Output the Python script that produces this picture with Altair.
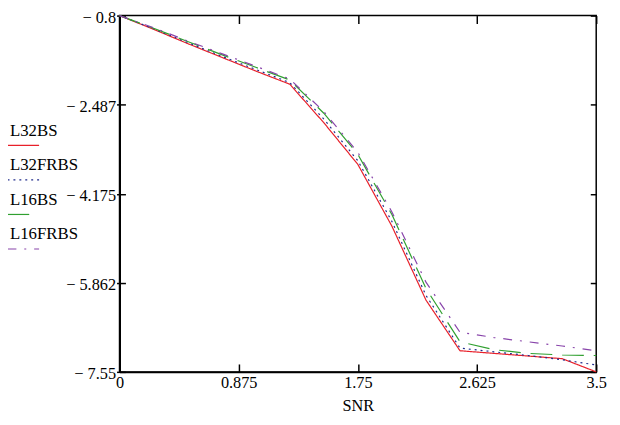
import altair as alt
import pandas as pd

snr = [0, 0.25, 0.5, 0.75, 1.0, 1.25, 1.5, 1.75, 2.0, 2.25, 2.5, 2.75, 3.0, 3.25, 3.5]
l32bs = [-0.8, -1.06, -1.33, -1.59, -1.85, -2.10, -2.83, -3.62, -4.79, -6.19, -7.15, -7.20, -7.25, -7.30, -7.55]
l32frbs = [-0.8, -1.05, -1.31, -1.57, -1.82, -2.07, -2.76, -3.55, -4.70, -6.10, -7.10, -7.17, -7.24, -7.32, -7.42]
l16bs = [-0.8, -1.04, -1.29, -1.54, -1.78, -2.02, -2.65, -3.43, -4.57, -5.97, -6.98, -7.13, -7.20, -7.23, -7.24]
l16frbs = [-0.8, -1.03, -1.28, -1.52, -1.76, -2.00, -2.62, -3.39, -4.52, -5.85, -6.80, -6.90, -6.98, -7.06, -7.15]

series_names = ["L32BS", "L32FRBS", "L16BS", "L16FRBS"]
colors = ["#e8202a", "#202c8c", "#30a030", "#8844aa"]
dashes = [[1, 0], [2, 4], [22, 10], [9, 8, 2, 8]]
x_ticks = [0, 0.875, 1.75, 2.625, 3.5]
y_ticks = [-0.8, -2.487, -4.175, -5.862, -7.55]

rows = []
for name, vals in zip(series_names, [l32bs, l32frbs, l16bs, l16frbs]):
    for s, v in zip(snr, vals):
        rows.append({"SNR": s, "value": v, "series": name})
df = pd.DataFrame(rows)

FONT = "Liberation Serif"
xs = alt.Scale(domain=[0, 3.5], nice=False, zero=False)
ys = alt.Scale(domain=[-7.55, -0.8], nice=False, zero=False)

legend = alt.Legend(
    orient="none", legendX=-128, legendY=108, title=None,
    symbolType="M6,15L38,15", symbolSize=4, symbolStrokeWidth=1.2,
    labelOffset=0, labelFont=FONT, labelFontSize=17, labelColor="black",
    rowPadding=8, padding=0,
)

lines = alt.Chart(df).mark_line(strokeWidth=1.2).encode(
    x=alt.X("SNR:Q", scale=xs, axis=alt.Axis(
        orient="bottom", values=x_ticks, ticks=False, domainColor="black", domainWidth=2,
        labelFont=FONT, labelFontSize=16.5, labelColor="black", labelPadding=3,
        labelFlush=False, labelOverlap=False, labelExpr="toString(datum.value)", grid=False,
        title="SNR", titleFont=FONT, titleFontSize=16.5, titleFontWeight="normal",
        titleColor="black", titlePadding=7)),
    y=alt.Y("value:Q", scale=ys, axis=alt.Axis(
        orient="left", values=y_ticks, tickSize=3, tickColor="black", tickWidth=1.5,
        domainColor="black", domainWidth=2, labelFont=FONT, labelFontSize=16.5,
        labelColor="black", labelPadding=1, labelOffset=2, labelFlush=False, labelOverlap=False,
        labelExpr="'\u2212 ' + toString(-datum.value)", title=None, grid=False)),
    color=alt.Color("series:N", scale=alt.Scale(domain=series_names, range=colors), legend=legend),
    strokeDash=alt.StrokeDash("series:N", scale=alt.Scale(domain=series_names, range=dashes), legend=legend),
)

def tick_axis(orient, offset, size, values):
    return alt.Axis(orient=orient, offset=offset, tickSize=size, values=values, labels=False,
                    domain=False, title=None, grid=False, tickColor="black", tickWidth=1.5)

ticks_a = alt.Chart(df).mark_point(opacity=0).encode(
    x=alt.X("SNR:Q", scale=xs, axis=tick_axis("bottom", -8, 8, x_ticks)),
    y=alt.Y("value:Q", scale=ys, axis=tick_axis("left", -6, 6, y_ticks)),
)
ticks_b = alt.Chart(df).mark_point(opacity=0).encode(
    x=alt.X("SNR:Q", scale=xs, axis=tick_axis("top", -8, 8, x_ticks)),
    y=alt.Y("value:Q", scale=ys, axis=tick_axis("right", -6, 6, y_ticks)),
)

chart = alt.layer(lines, ticks_a, ticks_b).resolve_axis(
    x="independent", y="independent"
).properties(
    width=483, height=361,
    padding={"left": 113, "top": 5, "right": 16, "bottom": 40},
    autosize=alt.AutoSizeParams(type="none"),
).configure_view(stroke="black", strokeWidth=1.5)

chart.save("out.html", embed_options={"renderer": "svg", "actions": False})
